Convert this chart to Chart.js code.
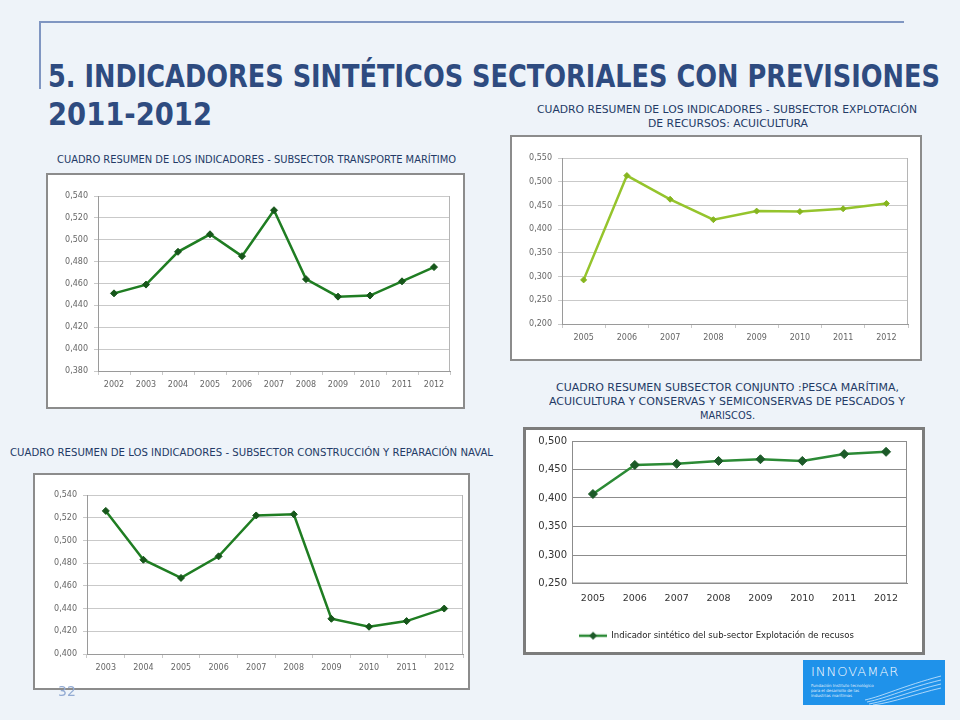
<!DOCTYPE html>
<html lang="es">
<head>
<meta charset="utf-8">
<title>Indicadores sintéticos sectoriales</title>
<script src="https://cdn.jsdelivr.net/npm/chart.js@4.4.1/dist/chart.umd.min.js"></script>
<style>
    html, body { margin: 0; padding: 0; }
    body {
        width: 960px; height: 720px; position: relative; overflow: hidden;
        background: #eef3f9;
        font-family: "Liberation Sans Narrow", "DejaVu Sans Condensed", "Liberation Sans", sans-serif;
    }
    .rule-h { position: absolute; left: 40px; top: 21px; width: 864px; height: 2px; background: #8096c2; }
    .rule-v { position: absolute; left: 39px; top: 21px; width: 2px; height: 68px; background: #8096c2; }
    .fit { position: absolute; white-space: nowrap; transform-origin: left top; line-height: 1; }
    .title { color: #2e4b80; font-weight: bold; font-size: 32px; }
    .cap { color: #233a66; font-size: 10px; }
    .box { position: absolute; background: #fff; border: 2px solid #8c8c8c; }
    .box canvas { display: block; }
    .pagenum { position: absolute; left: 58px; top: 683px; color: #93abd3; font-size: 14px; font-family: "DejaVu Sans", sans-serif; }
    .logo {
        position: absolute; left: 803px; top: 660px; width: 142px; height: 45px;
        background: #1f92ea; color: #fff; overflow: hidden;
    }
    .logo .name { position: absolute; left: 8px; top: 4px; font-family: "DejaVu Sans", sans-serif; font-size: 13px; letter-spacing: 1px; font-weight: 300; }
    .logo .sub { position: absolute; left: 8px; top: 23px; font-family: "DejaVu Sans", sans-serif; font-size: 4px; line-height: 5px; opacity: .85; }
    .logo svg { position: absolute; left: 60px; top: 14px; }
</style>
</head>
<body>
<div class="rule-h"></div>
<div class="rule-v"></div>

<div class="fit title" data-x="48" data-y="60" data-w="892">5. INDICADORES SINTÉTICOS SECTORIALES CON PREVISIONES</div>
<div class="fit title" data-x="48" data-y="98" data-w="164">2011-2012</div>

<div class="fit cap" data-x="57" data-y="155" data-w="399">CUADRO RESUMEN DE LOS INDICADORES - SUBSECTOR TRANSPORTE MARÍTIMO</div>
<div class="fit cap" data-x="537" data-y="105" data-w="380">CUADRO RESUMEN DE LOS INDICADORES - SUBSECTOR EXPLOTACIÓN</div>
<div class="fit cap" data-x="648" data-y="119" data-w="160">DE RECURSOS: ACUICULTURA</div>
<div class="fit cap" data-x="10" data-y="448" data-w="483">CUADRO RESUMEN DE LOS INDICADORES - SUBSECTOR CONSTRUCCIÓN Y REPARACIÓN NAVAL</div>
<div class="fit cap" data-x="556" data-y="383" data-w="343">CUADRO RESUMEN SUBSECTOR CONJUNTO :PESCA MARÍTIMA,</div>
<div class="fit cap" data-x="549" data-y="397" data-w="356">ACUICULTURA Y CONSERVAS Y SEMICONSERVAS DE PESCADOS Y</div>
<div class="fit cap" data-x="700" data-y="411" data-w="55">MARISCOS.</div>

<div class="box" style="left:46px;top:173px;"><canvas id="transChart" width="415" height="232"></canvas></div>
<div class="box" style="left:510px;top:135px;"><canvas id="acuiChart" width="408" height="222"></canvas></div>
<div class="box" style="left:33px;top:473px;"><canvas id="navalChart" width="433" height="213"></canvas></div>
<div class="box" style="left:523px;top:427px;border:3px solid #7c7c7c;"><canvas id="conjChart" width="396" height="222"></canvas></div>

<div class="pagenum">32</div>

<div class="logo">
    <div class="name">INNOVAMAR</div>
    <div class="sub">Fundación Instituto tecnológico<br>para el desarrollo de las<br>industrias marítimas</div>
    <svg width="80" height="32" viewBox="0 0 80 32">
        <path d="M2 26 C20 22 40 12 78 2" stroke="#cfe8ff" stroke-width="0.8" fill="none"/>
        <path d="M4 28 C24 24 44 14 78 6" stroke="#cfe8ff" stroke-width="0.8" fill="none"/>
        <path d="M6 30 C28 26 48 17 78 10" stroke="#cfe8ff" stroke-width="0.8" fill="none"/>
        <path d="M10 31 C32 28 52 20 78 14" stroke="#cfe8ff" stroke-width="0.8" fill="none"/>
    </svg>
</div>

<script>
    "use strict";

    /* ---------- data ---------- */
    const transYears = ["2002", "2003", "2004", "2005", "2006", "2007", "2008", "2009", "2010", "2011", "2012"];
    const transValues = [0.451, 0.459, 0.489, 0.505, 0.485, 0.527, 0.464, 0.448, 0.449, 0.462, 0.475];
    const transRange = [0.38, 0.54, 0.02];

    const acuiYears = ["2005", "2006", "2007", "2008", "2009", "2010", "2011", "2012"];
    const acuiValues = [0.293, 0.513, 0.463, 0.420, 0.438, 0.437, 0.443, 0.454];
    const acuiRange = [0.2, 0.55, 0.05];

    const navalYears = ["2003", "2004", "2005", "2006", "2007", "2008", "2009", "2010", "2011", "2012"];
    const navalValues = [0.526, 0.483, 0.467, 0.486, 0.522, 0.523, 0.431, 0.424, 0.429, 0.440];
    const navalRange = [0.40, 0.54, 0.02];

    const conjYears = ["2005", "2006", "2007", "2008", "2009", "2010", "2011", "2012"];
    const conjValues = [0.407, 0.458, 0.460, 0.465, 0.468, 0.465, 0.477, 0.481];
    const conjRange = [0.25, 0.50, 0.05];
    const conjLabel = "Indicador sintético del sub-sector Explotación de recusos";

    /* ---------- helpers ---------- */
    function fitTexts() {
        document.querySelectorAll(".fit").forEach(el => {
            el.style.left = el.dataset.x + "px";
            el.style.top = el.dataset.y + "px";
            const w = el.getBoundingClientRect().width;
            el.style.transform = "scaleX(" + (Number(el.dataset.w) / w) + ")";
        });
    }
    function comma(v) { return v.toFixed(3).replace(".", ","); }

    // right edge (or full frame) of the plot area, as in the Excel charts
    const plotFrame = {
        id: "plotFrame",
        afterDatasetsDraw(chart, args, opts) {
            const a = chart.chartArea, ctx = chart.ctx;
            ctx.save();
            ctx.strokeStyle = opts.color || "#a6a6a6";
            ctx.lineWidth = 1;
            ctx.beginPath();
            if (opts.full) {
                ctx.rect(a.left + 0.5, a.top + 0.5, a.right - a.left - 1, a.bottom - a.top - 1);
            } else {
                ctx.moveTo(a.right - 0.5, a.top);
                ctx.lineTo(a.right - 0.5, a.bottom);
            }
            ctx.stroke();
            ctx.restore();
        }
    };

    Chart.defaults.font.family = "'DejaVu Sans', sans-serif";
    Chart.defaults.animation = false;

    function lineChart(id, labels, values, range, o) {
        return new Chart(document.getElementById(id), {
            type: "line",
            data: {
                labels: labels,
                datasets: [{
                    label: o.label || "",
                    data: values,
                    borderColor: o.line,
                    borderWidth: o.lineWidth,
                    tension: 0,
                    pointStyle: "rectRot",
                    pointRadius: o.radius,
                    pointBackgroundColor: o.marker,
                    pointBorderColor: o.marker,
                    pointBorderWidth: 1
                }]
            },
            options: {
                responsive: false,
                layout: { padding: o.pad },
                plugins: {
                    legend: o.legend || { display: false },
                    tooltip: { enabled: false },
                    plotFrame: { color: o.frame, full: !!o.full }
                },
                scales: {
                    x: {
                        offset: true,
                        grid: { display: !o.full, drawOnChartArea: false, offset: true, tickLength: 4, color: o.grid },
                        border: { color: o.axis },
                        ticks: { color: o.text, font: { size: o.xSize }, padding: o.xPad, maxRotation: 0, autoSkip: false },
                        afterFit: s => { s.height = o.xh; }
                    },
                    y: {
                        min: range[0], max: range[1],
                        grid: { color: o.grid, drawTicks: !o.full, tickLength: 4 },
                        border: { color: o.axis },
                        ticks: { stepSize: range[2], color: o.text, font: { size: o.ySize }, padding: o.yPad, callback: comma },
                        afterFit: s => { s.width = o.yw; }
                    }
                }
            },
            plugins: [plotFrame]
        });
    }

    /* ---------- legend mark: line with a diamond ---------- */
    function legendMark(line, fill) {
        const c = document.createElement("canvas");
        c.width = 28; c.height = 10;
        const g = c.getContext("2d");
        g.strokeStyle = line; g.lineWidth = 2.5;
        g.beginPath(); g.moveTo(0, 5); g.lineTo(28, 5); g.stroke();
        g.fillStyle = fill;
        g.beginPath(); g.moveTo(14, 1); g.lineTo(18, 5); g.lineTo(14, 9); g.lineTo(10, 5); g.closePath(); g.fill();
        return c;
    }

    /* ---------- init ---------- */
    fitTexts();

    lineChart("transChart", transYears, transValues, transRange, {
        line: "#1f7d22", marker: "#16561a", lineWidth: 2.5, radius: 3.5,
        grid: "#c9c9c9", axis: "#9a9a9a", frame: "#b5b5b5", text: "#666",
        xSize: 8, ySize: 8, xPad: 5, yPad: 6, xh: 36, yw: 50,
        pad: { top: 21, right: 13, left: 0, bottom: 0 }
    });

    lineChart("acuiChart", acuiYears, acuiValues, acuiRange, {
        line: "#95c42c", marker: "#86b51f", lineWidth: 2.5, radius: 3,
        grid: "#c9c9c9", axis: "#9a9a9a", frame: "#b5b5b5", text: "#666",
        xSize: 8, ySize: 8, xPad: 5, yPad: 6, xh: 35, yw: 50,
        pad: { top: 21, right: 12, left: 0, bottom: 0 }
    });

    lineChart("navalChart", navalYears, navalValues, navalRange, {
        line: "#1f7d22", marker: "#16561a", lineWidth: 2.5, radius: 3.5,
        grid: "#c9c9c9", axis: "#9a9a9a", frame: "#b5b5b5", text: "#666",
        xSize: 8, ySize: 8, xPad: 5, yPad: 6, xh: 34, yw: 52,
        pad: { top: 20, right: 4, left: 0, bottom: 0 }
    });

    const conjMark = legendMark("#2b8a35", "#1c5a28");
    lineChart("conjChart", conjYears, conjValues, conjRange, {
        label: conjLabel,
        line: "#2b8a35", marker: "#1c5a28", lineWidth: 2.5, radius: 4.5, full: true,
        grid: "#8c8c8c", axis: "#8c8c8c", frame: "#8c8c8c", text: "#333",
        xSize: 9.5, ySize: 10, xPad: 5, yPad: 5, xh: 38, yw: 46,
        pad: { top: 9, right: 15, left: 0, bottom: 2 },
        legend: {
            display: true, position: "bottom",
            labels: {
                color: "#222", font: { size: 8.5 }, padding: 10,
                usePointStyle: true, pointStyleWidth: 28, boxHeight: 9,
                generateLabels: ch => Chart.defaults.plugins.legend.labels.generateLabels(ch)
                    .map(l => Object.assign(l, { pointStyle: conjMark }))
            }
        }
    });
</script>
</body>
</html>
